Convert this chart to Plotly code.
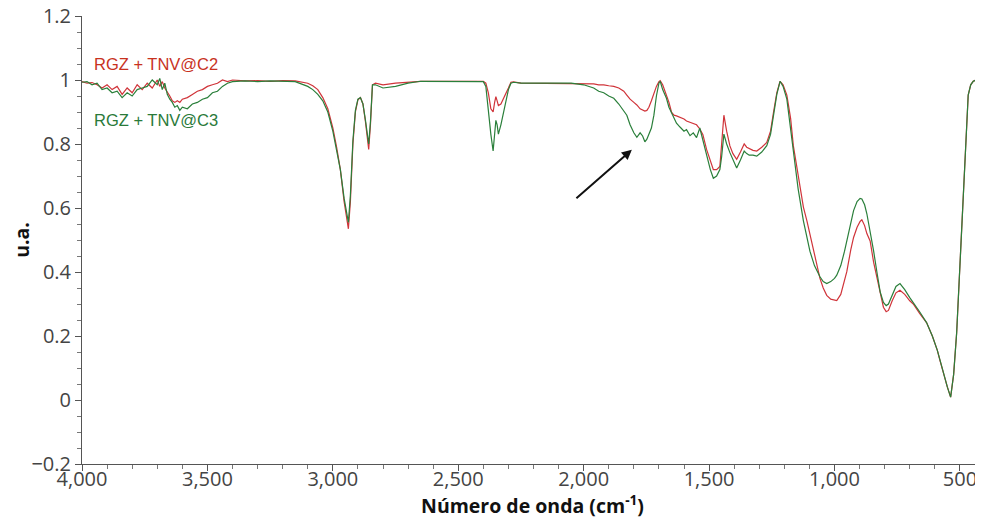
import plotly.graph_objects as go

wavenumber = [4000, 3980, 3960, 3940, 3920, 3900, 3880, 3860, 3840, 3820, 3800, 3780, 3760, 3740, 3720,
              3700, 3690, 3680, 3670, 3660, 3650, 3640, 3630, 3620, 3610, 3600, 3580, 3560, 3540, 3520,
              3500, 3480, 3460, 3440, 3420, 3400, 3350, 3300, 3250, 3200, 3150, 3100, 3080, 3060, 3040,
              3020, 3000, 2985, 2970, 2955, 2945, 2938, 2930, 2920, 2910, 2900, 2890, 2880, 2870, 2862,
              2857, 2850, 2842, 2830, 2800, 2750, 2700, 2650, 2600, 2550, 2500, 2450, 2400, 2390, 2380,
              2370, 2361, 2355, 2350, 2345, 2340, 2330, 2320, 2310, 2300, 2290, 2280, 2250, 2200, 2150,
              2100, 2050, 2000, 1980, 1960, 1940, 1920, 1900, 1880, 1860, 1840, 1828, 1815, 1800, 1788,
              1775, 1765, 1756, 1748, 1740, 1730, 1720, 1710, 1700, 1695, 1685, 1670, 1660, 1650, 1640,
              1630, 1616, 1600, 1590, 1576, 1563, 1550, 1537, 1525, 1510, 1495, 1483, 1470, 1457, 1450,
              1441, 1430, 1417, 1405, 1390, 1375, 1360, 1350, 1340, 1325, 1310, 1290, 1270, 1255, 1243,
              1230, 1217, 1205, 1190, 1175, 1164, 1145, 1124, 1110, 1098, 1080, 1058, 1045, 1031, 1015,
              1000, 991, 975, 960, 951, 935, 924, 910, 898, 891, 880, 871, 858, 844, 831,
              818, 805, 794, 785, 770, 755, 739, 720, 700, 686, 660, 633, 610, 590, 580,
              565, 550, 537, 525, 513, 500, 487, 475, 467, 457, 447, 435, 420, 408, 400]

c2 = [0.995, 0.99, 0.992, 0.985, 0.975, 0.985, 0.97, 0.98, 0.955, 0.975, 0.96, 0.985, 0.97, 0.99, 0.975,
      1.0, 0.98, 0.995, 0.975, 0.96, 0.95, 0.935, 0.93, 0.935, 0.93, 0.94, 0.945, 0.955, 0.965, 0.97,
      0.98, 0.985, 0.99, 1.0, 0.995, 1.0, 0.997, 0.998, 0.996, 0.998, 0.997, 0.99, 0.982, 0.97, 0.945,
      0.91, 0.85, 0.79, 0.72, 0.62, 0.565, 0.535, 0.62, 0.80, 0.90, 0.938, 0.945, 0.925, 0.87, 0.81,
      0.783, 0.86, 0.985, 0.99, 0.985, 0.99, 0.993, 0.996, 0.996, 0.996, 0.997, 0.996, 0.996, 0.99, 0.96,
      0.91, 0.90, 0.93, 0.948, 0.935, 0.92, 0.925, 0.94, 0.955, 0.975, 0.993, 0.994, 0.99, 0.99, 0.99,
      0.99, 0.99, 0.99, 0.99, 0.988, 0.985, 0.985, 0.982, 0.98, 0.975, 0.965, 0.953, 0.94, 0.93, 0.922,
      0.91, 0.905, 0.903, 0.905, 0.915, 0.935, 0.96, 0.98, 0.995, 0.998, 0.985, 0.953, 0.93, 0.90, 0.89,
      0.888, 0.884, 0.878, 0.872, 0.868, 0.863, 0.86, 0.847, 0.83, 0.783, 0.745, 0.72, 0.72, 0.73, 0.80,
      0.89, 0.84, 0.794, 0.77, 0.752, 0.775, 0.80, 0.79, 0.785, 0.78, 0.778, 0.79, 0.805, 0.84, 0.90,
      0.96, 0.996, 0.985, 0.953, 0.88, 0.794, 0.70, 0.603, 0.56, 0.518, 0.45, 0.38, 0.35, 0.327, 0.315,
      0.312, 0.311, 0.33, 0.37, 0.401, 0.47, 0.508, 0.54, 0.558, 0.563, 0.545, 0.52, 0.497, 0.43, 0.38,
      0.33, 0.29, 0.276, 0.28, 0.31, 0.335, 0.343, 0.33, 0.31, 0.30, 0.27, 0.242, 0.20, 0.155, 0.125,
      0.08, 0.04, 0.009, 0.08, 0.21, 0.42, 0.635, 0.85, 0.953, 0.985, 0.996, 1.0, 0.995, 0.98, 0.975]

c3 = [0.993, 0.995, 0.985, 0.99, 0.97, 0.975, 0.96, 0.965, 0.945, 0.96, 0.95, 0.97, 0.975, 0.98, 1.0,
      0.985, 1.005, 0.97, 0.99, 0.955, 0.94, 0.93, 0.915, 0.92, 0.905, 0.915, 0.91, 0.925, 0.93, 0.94,
      0.945, 0.96, 0.965, 0.98, 0.99, 0.995, 0.997, 0.995, 0.997, 0.996, 0.995, 0.98, 0.97, 0.955, 0.935,
      0.90, 0.84, 0.78, 0.72, 0.63, 0.585, 0.555, 0.64, 0.81, 0.905, 0.94, 0.945, 0.925, 0.875, 0.83,
      0.80, 0.87, 0.985, 0.985, 0.975, 0.98, 0.99, 0.996, 0.996, 0.996, 0.996, 0.996, 0.995, 0.98, 0.90,
      0.83, 0.778, 0.82, 0.874, 0.86, 0.831, 0.86, 0.90, 0.93, 0.97, 0.99, 0.993, 0.99, 0.99, 0.99,
      0.99, 0.99, 0.985, 0.98, 0.975, 0.965, 0.96, 0.95, 0.943, 0.925, 0.905, 0.89, 0.86, 0.835, 0.821,
      0.835, 0.825, 0.807, 0.815, 0.83, 0.85, 0.89, 0.95, 0.99, 0.996, 0.97, 0.943, 0.915, 0.90, 0.88,
      0.865, 0.853, 0.84, 0.845, 0.826, 0.835, 0.82, 0.85, 0.81, 0.77, 0.72, 0.693, 0.70, 0.72, 0.76,
      0.831, 0.80, 0.773, 0.75, 0.725, 0.75, 0.778, 0.77, 0.765, 0.765, 0.762, 0.775, 0.795, 0.83, 0.89,
      0.955, 0.996, 0.98, 0.94, 0.85, 0.773, 0.66, 0.56, 0.51, 0.465, 0.42, 0.385, 0.37, 0.364, 0.37,
      0.38, 0.39, 0.42, 0.465, 0.497, 0.555, 0.592, 0.62, 0.63, 0.628, 0.61, 0.582, 0.53, 0.465, 0.40,
      0.338, 0.305, 0.295, 0.30, 0.33, 0.355, 0.364, 0.345, 0.32, 0.305, 0.275, 0.242, 0.20, 0.155, 0.125,
      0.08, 0.04, 0.009, 0.08, 0.21, 0.42, 0.635, 0.85, 0.953, 0.985, 0.996, 1.0, 0.995, 0.98, 0.975]

label_c2 = "RGZ + TNV@C2"
label_c3 = "RGZ + TNV@C3"
red = "#d0343a"
green = "#2a7f3a"

fig = go.Figure()
fig.add_trace(go.Scatter(x=wavenumber, y=c2, mode="lines", name=label_c2,
                         line=dict(color=red, width=1.2)))
fig.add_trace(go.Scatter(x=wavenumber, y=c3, mode="lines", name=label_c3,
                         line=dict(color=green, width=1.2)))

fig.add_annotation(x=3960, y=1.05, text=label_c2, showarrow=False, xanchor="left",
                   font=dict(family="Liberation Sans, Arial", size=16.5, color="#c8321e"))
fig.add_annotation(x=3960, y=0.875, text=label_c3, showarrow=False, xanchor="left",
                   font=dict(family="Liberation Sans, Arial", size=16.5, color="#2a7a3a"))
fig.add_annotation(x=1808, y=0.782, ax=2035, ay=0.626, axref="x", ayref="y",
                   showarrow=True, arrowhead=2, arrowsize=1, arrowwidth=2, arrowcolor="#111",
                   text="")

axis_font = dict(family="Open Sans, Noto Sans", size=20, color="#444")
title_font = dict(family="Open Sans, Noto Sans", size=19.5, color="#111")
# page body has an 8px default margin, so the figure is 8px smaller and margins shifted
fig.update_layout(
    width=975, height=511,
    margin=dict(l=74, r=0, t=8, b=55),
    paper_bgcolor="white", plot_bgcolor="white",
    showlegend=False,
    xaxis=dict(range=[4000, 408], tickvals=[4000, 3500, 3000, 2500, 2000, 1500, 1000, 500],
               tickformat=",d", ticks="outside", ticklen=6, tickcolor="#555", automargin=False,
               showline=True, linecolor="#555", linewidth=1, showgrid=False, zeroline=False,
               tickfont=axis_font, ticklabelstandoff=-9, ticklabeloverflow="allow",
               minor=dict(dtick=100, ticks="outside", ticklen=4, tickcolor="#777"),
               title=dict(text="<b>Número de onda (cm<sup>-1</sup>)</b>", standoff=0, font=title_font)),
    yaxis=dict(range=[-0.2, 1.2], tickvals=[-0.2, 0, 0.2, 0.4, 0.6, 0.8, 1, 1.2],
               ticks="outside", ticklen=6, tickcolor="#555", automargin=False,
               ticklabeloverflow="allow",
               showline=True, linecolor="#555", linewidth=1, showgrid=False, zeroline=False,
               tickfont=axis_font,
               minor=dict(dtick=0.05, ticks="outside", ticklen=4, tickcolor="#777"),
               title=dict(text="<b>u.a.</b>", standoff=6, font=title_font)),
)

fig.write_html("out.html")
